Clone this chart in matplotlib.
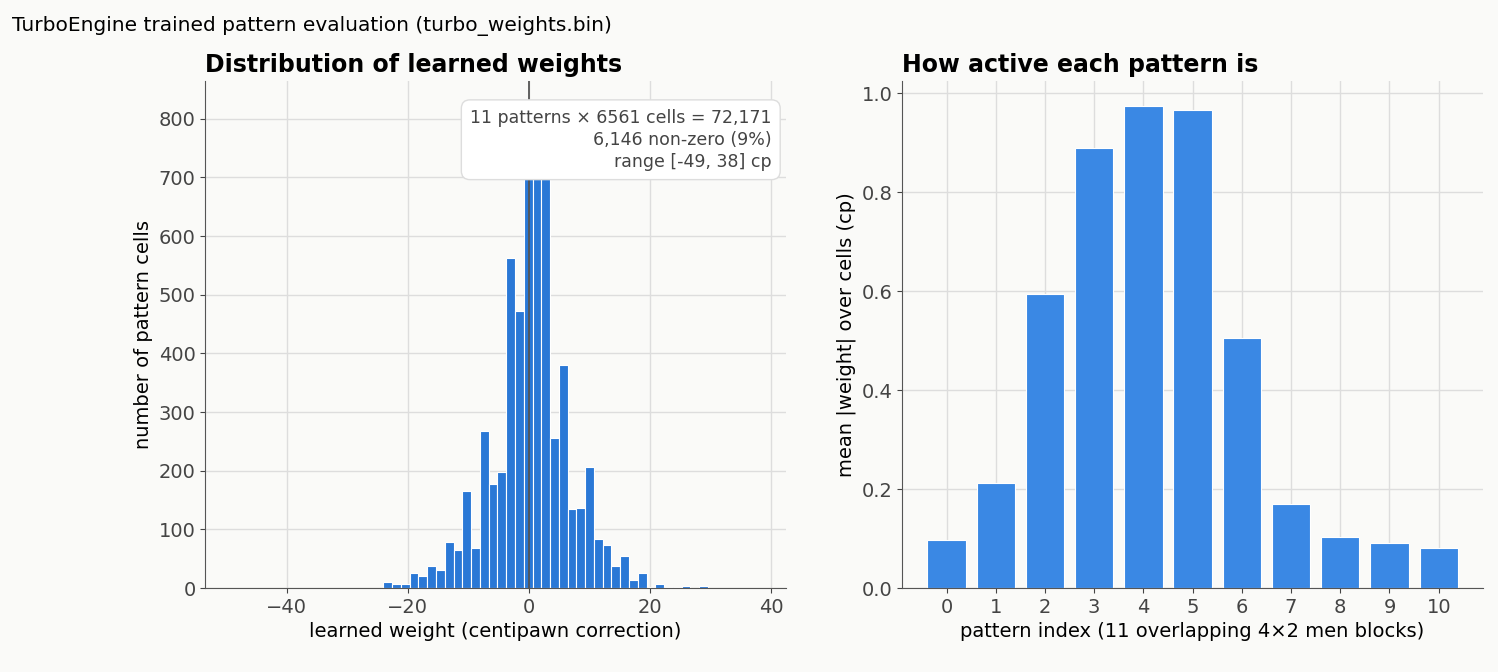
import numpy as np
import matplotlib.pyplot as plt

# histogram of non-zero weights: 60 bins over [-49, 38]
bin_lo, bin_hi, n_bins = -49, 38, 60
counts = [0] * 17 + [11, 7, 7, 26, 21, 37, 31, 78, 64, 165, 69, 267, 177, 198, 563, 472,
                     790, 805, 795,
                     255, 381, 134, 136, 206, 83, 74, 37, 54, 14, 26, 2, 7, 2, 2, 4, 0, 4] + [0] * 6
patterns = list(range(11))
mean_abs = [0.097, 0.212, 0.593, 0.889, 0.974, 0.966, 0.506, 0.169, 0.103, 0.091, 0.081]

bg = '#fafaf8'
plt.rcParams.update({'font.family': 'DejaVu Sans', 'font.size': 14, 'axes.edgecolor': '#555555',
                     'xtick.color': '#444444', 'ytick.color': '#444444',
                     'xtick.labelsize': 14, 'ytick.labelsize': 14})

fig, (ax1, ax2) = plt.subplots(1, 2, figsize=(14.98, 6.72), dpi=100, facecolor=bg)
fig.subplots_adjust(left=0.137, right=0.99, top=0.88, bottom=0.125, wspace=0.2)
fig.text(0.008, 0.962, 'TurboEngine trained pattern evaluation (turbo_weights.bin)', fontsize=14.5, va='center')

edges = np.linspace(bin_lo, bin_hi, n_bins + 1)
for ax in (ax1, ax2):
    ax.set_facecolor(bg)
    ax.spines['top'].set_visible(False)
    ax.spines['right'].set_visible(False)
    ax.grid(True, color='#dddddd', lw=1)
    ax.set_axisbelow(True)

ax1.bar(edges[:-1] + 0.3, counts, width=np.diff(edges), align='edge', color='#2a78d6', edgecolor='white', lw=0.8)
ax1.axvline(0, color='#555555', lw=1.3)
ax1.set_xlim(-53.5, 42.5)
ax1.set_ylim(0, 865)
ax1.set_xlabel('learned weight (centipawn correction)', fontsize=14)
ax1.set_ylabel('number of pattern cells', fontsize=14)
ax1.set_title('Distribution of learned weights', fontsize=17, fontweight='bold', loc='left')
ax1.text(0.975, 0.945, '11 patterns × 6561 cells = 72,171\n6,146 non-zero (9%)\nrange [-49, 38] cp',
         transform=ax1.transAxes, ha='right', va='top', fontsize=12.5, color='#444444', linespacing=1.3,
         zorder=10, bbox=dict(boxstyle='round,pad=0.5', fc='white', ec='#dddddd'))

ax2.bar(patterns, mean_abs, width=0.78, color='#3a88e4', edgecolor='white', lw=0.8)
ax2.set_xticks(patterns)
ax2.set_xlim(-0.9, 10.9)
ax2.set_ylim(0, 1.025)
ax2.set_xlabel('pattern index (11 overlapping 4×2 men blocks)', fontsize=14)
ax2.set_ylabel('mean |weight| over cells (cp)', fontsize=14)
ax2.set_title('How active each pattern is', fontsize=17, fontweight='bold', loc='left')

fig.savefig('out.png', dpi=100, facecolor=bg)
